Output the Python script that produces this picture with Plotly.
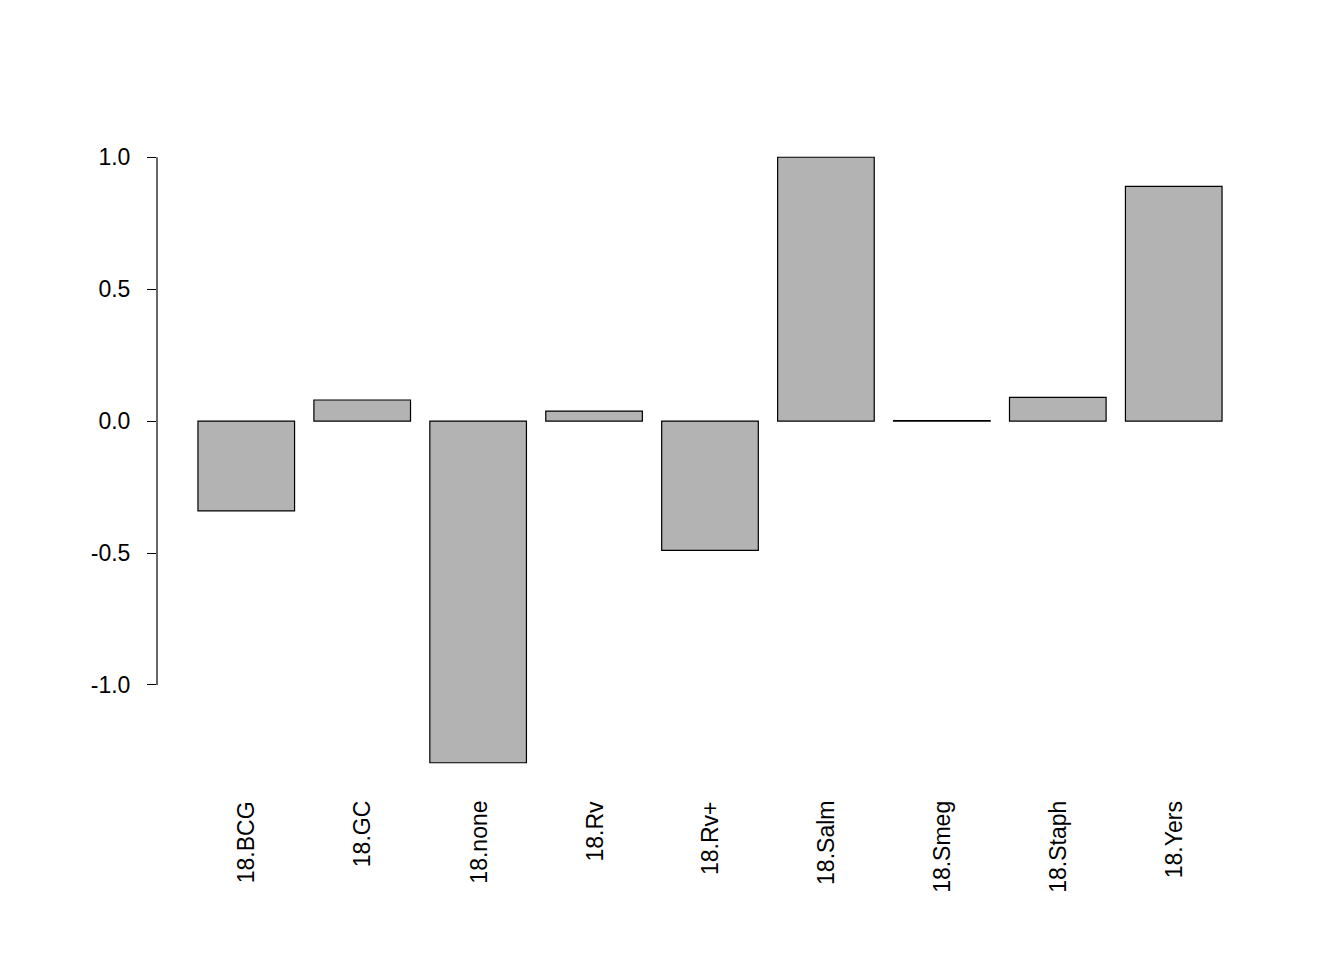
import plotly.graph_objects as go

categories = ["18.BCG", "18.GC", "18.none", "18.Rv", "18.Rv+", "18.Salm", "18.Smeg", "18.Staph", "18.Yers"]
values = [-0.34, 0.08, -1.295, 0.038, -0.49, 1.0, 0.002, 0.09, 0.89]
yticks = [-1.0, -0.5, 0.0, 0.5, 1.0]

# R barplot layout: width 1, space 0.2
xpos = [0.7 + 1.2 * i for i in range(len(categories))]

fig = go.Figure(go.Bar(
    x=xpos, y=values, width=1,
    marker=dict(color="#b3b3b3", line=dict(color="black", width=1.2)),
))

for x, lab in zip(xpos, categories):
    fig.add_annotation(x=x, y=0, xref="x", yref="paper", text=lab, textangle=-90,
                       showarrow=False, xanchor="center", yanchor="top", yshift=-12,
                       font=dict(size=23, color="black"))

fig.add_shape(type="line", xref="paper", yref="y", x0=0, x1=0, y0=-1, y1=1,
              line=dict(color="black", width=1.2))

fig.update_layout(
    width=1344, height=960,
    plot_bgcolor="white", paper_bgcolor="white",
    margin=dict(l=149, r=89, t=125, b=181),
    font=dict(family="Liberation Sans, Arial", size=23, color="black"),
    showlegend=False,
    xaxis=dict(range=[-0.224, 11.224], visible=False),
    yaxis=dict(range=[-1.387, 1.092], tickvals=yticks,
               ticktext=["-1.0", "-0.5", "0.0", "0.5", "1.0"],
               ticks="outside", ticklen=9, tickwidth=1.2, tickcolor="black",
               ticklabelstandoff=12,
               showgrid=False, zeroline=False, showline=False),
)

fig.write_html("out.html")
